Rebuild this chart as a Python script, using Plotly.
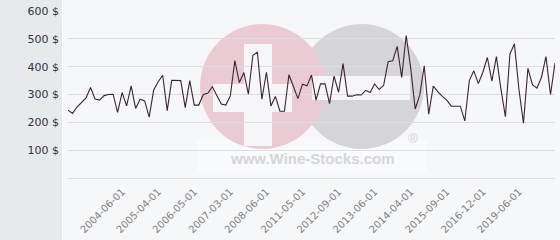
import plotly.graph_objects as go

# ---- data ----
prices = [244, 232, 255, 273, 288, 325, 284, 280, 296, 300,
          301, 236, 307, 259, 331, 250, 283, 277, 219, 316,
          346, 369, 242, 351, 350, 350, 253, 350, 262, 262,
          300, 304, 328, 295, 266, 262, 295, 422, 343, 379,
          301, 441, 452, 283, 380, 259, 293, 240, 240, 371,
          328, 285, 337, 331, 370, 280, 338, 338, 267, 366,
          308, 411, 294, 294, 299, 298, 315, 307, 338, 318,
          333, 418, 421, 473, 361, 512, 395, 248, 298, 403,
          229, 330, 310, 293, 280, 258, 258, 258, 205, 350,
          385, 339, 380, 433, 348, 436, 320, 220, 445, 482,
          319, 197, 394, 335, 323, 362, 436, 300, 413]
tick_labels = ["2004-06-01", "2005-04-01", "2006-05-01", "2007-03-01",
               "2008-06-01", "2011-05-01", "2012-09-01", "2013-06-01",
               "2014-04-01", "2015-09-01", "2016-12-01", "2019-06-01"]
tick_index = [12, 20, 28, 36, 44, 52, 60, 68, 76, 84, 92, 100]
y_ticks = [100, 200, 300, 400, 500, 600]

x = list(range(len(prices)))

# ---- layout geometry (pixels) ----
W, H = 560, 240
ML, MR, MT, MB = 68, 5, 11, 62
PW, PH = W - ML - MR, H - MT - MB


def px(v):
    return (v - ML) / PW


def py(v):
    return (H - MB - v) / PH


fig = go.Figure()
fig.add_trace(go.Scatter(
    x=x, y=prices, mode="lines",
    line=dict(color="#3b2331", width=1.1),
    hoverinfo="skip", showlegend=False,
))

shapes = []
# left grey panel + white separator
shapes.append(dict(type="rect", xref="paper", yref="paper",
                   x0=px(0), x1=px(62), y0=py(H + 2), y1=py(-2),
                   fillcolor="#e6eaed", line=dict(width=0), layer="below"))
shapes.append(dict(type="line", xref="paper", yref="paper",
                   x0=px(62.5), x1=px(62.5), y0=py(H + 2), y1=py(-2),
                   line=dict(color="#ffffff", width=1), layer="below"))
# watermark
shapes.append(dict(type="rect", xref="paper", yref="paper",
                   x0=px(197), x1=px(427), y0=py(173), y1=py(140),
                   fillcolor="rgba(255,255,255,0.35)", line=dict(width=0), layer="below"))
shapes.append(dict(type="circle", xref="paper", yref="paper",
                   x0=px(299), x1=px(424), y0=py(149), y1=py(24),
                   fillcolor="#d5d5d8", line=dict(width=0), layer="below"))
shapes.append(dict(type="circle", xref="paper", yref="paper",
                   x0=px(200), x1=px(325), y0=py(149), y1=py(24),
                   fillcolor="#eacbd3", line=dict(width=0), layer="below"))
shapes.append(dict(type="rect", xref="paper", yref="paper",
                   x0=px(312), x1=px(410), y0=py(100), y1=py(76),
                   fillcolor="#f6f6f8", line=dict(width=0), layer="below"))
shapes.append(dict(type="rect", xref="paper", yref="paper",
                   x0=px(213), x1=px(292), y0=py(112), y1=py(84),
                   fillcolor="#f6f6f8", line=dict(width=0), layer="below"))
shapes.append(dict(type="rect", xref="paper", yref="paper",
                   x0=px(244), x1=px(272), y0=py(146), y1=py(44),
                   fillcolor="#f6f6f8", line=dict(width=0), layer="below"))

annotations = [
    dict(text="<b>www.Wine-Stocks.com</b>", xref="paper", yref="paper",
         x=px(312.5), y=py(158), xanchor="center", yanchor="middle",
         showarrow=False, font=dict(family="Liberation Sans", size=15, color="#d6d6d8")),
    dict(text="®", xref="paper", yref="paper",
         x=px(413), y=py(138), xanchor="center", yanchor="middle",
         showarrow=False, font=dict(family="Liberation Sans", size=13, color="#d2d2d5")),
]

fig.update_layout(
    width=W, height=H,
    margin=dict(l=ML, r=MR, t=MT, b=MB, pad=0),
    paper_bgcolor="#f6f7f9",
    plot_bgcolor="rgba(0,0,0,0)",
    shapes=shapes,
    annotations=annotations,
    showlegend=False,
    xaxis=dict(
        range=[0, len(prices) - 1],
        tickmode="array", tickvals=tick_index, ticktext=tick_labels,
        tickangle=-45, showgrid=False, zeroline=False, showline=False,
        ticks="", ticklabelstandoff=5,
        tickfont=dict(family="DejaVu Sans", size=10, color="#808080"),
    ),
    yaxis=dict(
        range=[0, 600],
        tickmode="array", tickvals=y_ticks,
        ticktext=[f"{v} $" for v in y_ticks],
        showgrid=True, gridcolor="#dddee4", gridwidth=1,
        zeroline=True, zerolinecolor="#dddee4", zerolinewidth=1,
        showline=False, ticks="",
        ticklabelstandoff=8,
        tickfont=dict(family="DejaVu Sans", size=11, color="#333333"),
    ),
)

fig.write_html("out.html")
